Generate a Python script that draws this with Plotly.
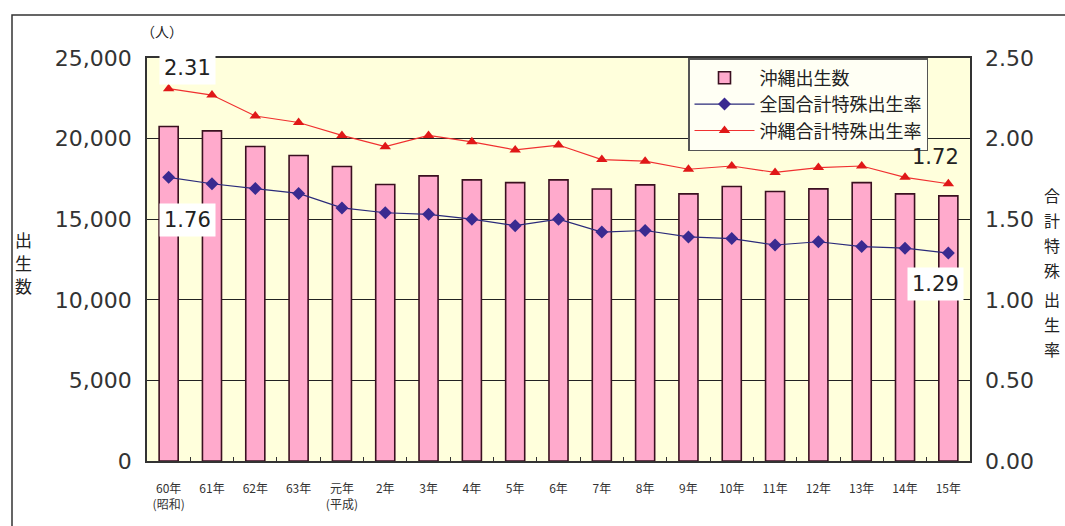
import plotly.graph_objects as go

categories = ["60年<br>(昭和)", "61年", "62年", "63年", "元年<br>(平成)", "2年", "3年", "4年",
              "5年", "6年", "7年", "8年", "9年", "10年", "11年", "12年", "13年", "14年", "15年"]
okinawa_births = [20750, 20480, 19510, 18950, 18270, 17150, 17690, 17440, 17270, 17440,
                  16870, 17130, 16570, 17030, 16720, 16880, 17270, 16570, 16450]
national_tfr = [1.76, 1.72, 1.69, 1.66, 1.57, 1.54, 1.53, 1.50, 1.46, 1.50,
                1.42, 1.43, 1.39, 1.38, 1.34, 1.36, 1.33, 1.32, 1.29]
okinawa_tfr = [2.31, 2.27, 2.14, 2.10, 2.02, 1.95, 2.02, 1.98, 1.93, 1.96,
               1.87, 1.86, 1.81, 1.83, 1.79, 1.82, 1.83, 1.76, 1.72]
left_ticks = [0, 5000, 10000, 15000, 20000, 25000]
left_tick_text = ["0", "5,000", "10,000", "15,000", "20,000", "25,000"]
right_ticks = [0, 0.5, 1.0, 1.5, 2.0, 2.5]
right_tick_text = ["0.00", "0.50", "1.00", "1.50", "2.00", "2.50"]
left_title = "出生数"
right_title = "合計特殊出生率"

FONT = "DejaVu Sans, Noto Sans CJK JP"
JP = "Noto Sans CJK JP, DejaVu Sans"

L, R, T, B = 147, 970, 58, 461
W, H = R - L, B - T
def px(xp):
    return (xp - L) / W
def py(yp):
    return (B - yp) / H

fig = go.Figure()
fig.add_trace(go.Bar(
    x=categories, y=okinawa_births, name="沖縄出生数", width=0.44,
    marker=dict(color="#FFAACC", line=dict(color="#3a1020", width=1.6)),
))
fig.add_trace(go.Scatter(
    x=categories, y=national_tfr, name="全国合計特殊出生率", yaxis="y2",
    mode="lines+markers", line=dict(color="#2a2a7a", width=1.2),
    marker=dict(symbol="diamond", size=10, color="#3a2a90"),
))
fig.add_trace(go.Scatter(
    x=categories, y=okinawa_tfr, name="沖縄合計特殊出生率", yaxis="y2",
    mode="lines+markers", line=dict(color="#f03030", width=1.2),
    marker=dict(symbol="triangle-up", size=10, color="#e01818"),
))

ann = []
def lab(cat, val, text, xs, ys, bg):
    ann.append(dict(x=cat, y=val, xref="x", yref="y2", text=text, showarrow=False,
                    xanchor="center", yanchor="middle",
                    xshift=xs, yshift=ys, bgcolor=bg, borderpad=4,
                    font=dict(size=21, color="#222", family=FONT)))

lab(categories[0], okinawa_tfr[0], "2.31", 19, 21, "white")
lab(categories[0], national_tfr[0], "1.76", 19, -43, "white")
lab(categories[-1], okinawa_tfr[-1], "1.72", -13, 27, "rgba(0,0,0,0)")
lab(categories[-1], national_tfr[-1], "1.29", -13, -31, "white")

def paper_text(x, y, text, size):
    ann.append(dict(x=px(x), y=py(y), xref="paper", yref="paper", text=text,
                    showarrow=False, xanchor="center", yanchor="middle",
                    font=dict(size=size, color="#222", family=JP)))

paper_text(162, 31, "（人）", 14)
for i, ch in enumerate(left_title):
    paper_text(23, 239 + i * 23, ch, 17)
right_y = [195, 220, 245, 270, 299, 324, 349]
for ch, yy in zip(right_title, right_y):
    paper_text(1052, yy, ch, 16)

fig.update_layout(
    width=1065, height=526,
    margin=dict(l=L, r=1065 - R, t=T, b=526 - B),
    paper_bgcolor="white", plot_bgcolor="#FFFFDC",
    showlegend=True,
    legend=dict(x=px(688), y=1, xanchor="left", yanchor="top",
                bgcolor="#FFFFF4", bordercolor="#555", borderwidth=1.5,
                font=dict(size=18, color="#222", family=JP),
                tracegroupgap=0, itemwidth=60),
    xaxis=dict(type="category", range=[-0.5, len(categories) - 0.5],
               tickson="boundaries", ticks="inside", ticklen=4,
               tickcolor="#333", showline=True, linecolor="#333", linewidth=1.5,
               mirror=True, showgrid=False, ticklabelstandoff=16,
               tickfont=dict(size=12, color="#333", family=JP)),
    yaxis=dict(range=[0, 25000], tickvals=left_ticks, ticktext=left_tick_text,
               showgrid=True, gridcolor="#222", gridwidth=1,
               showline=True, linecolor="#333", linewidth=1.5, mirror=True,
               ticks="", ticklabelstandoff=9, zeroline=False,
               tickfont=dict(size=22, color="#333", family=FONT)),
    yaxis2=dict(range=[0, 2.5], tickvals=right_ticks, ticktext=right_tick_text,
                overlaying="y", side="right", showgrid=False, zeroline=False,
                ticks="", ticklabelstandoff=14,
                tickfont=dict(size=22, color="#333", family=FONT)),
    annotations=ann,
    shapes=[dict(type="rect", xref="paper", yref="paper",
                 x0=px(12), x1=1.3, y0=-0.5, y1=py(15),
                 line=dict(color="#333", width=1.5), layer="below")],
)

fig.write_html("out.html")
